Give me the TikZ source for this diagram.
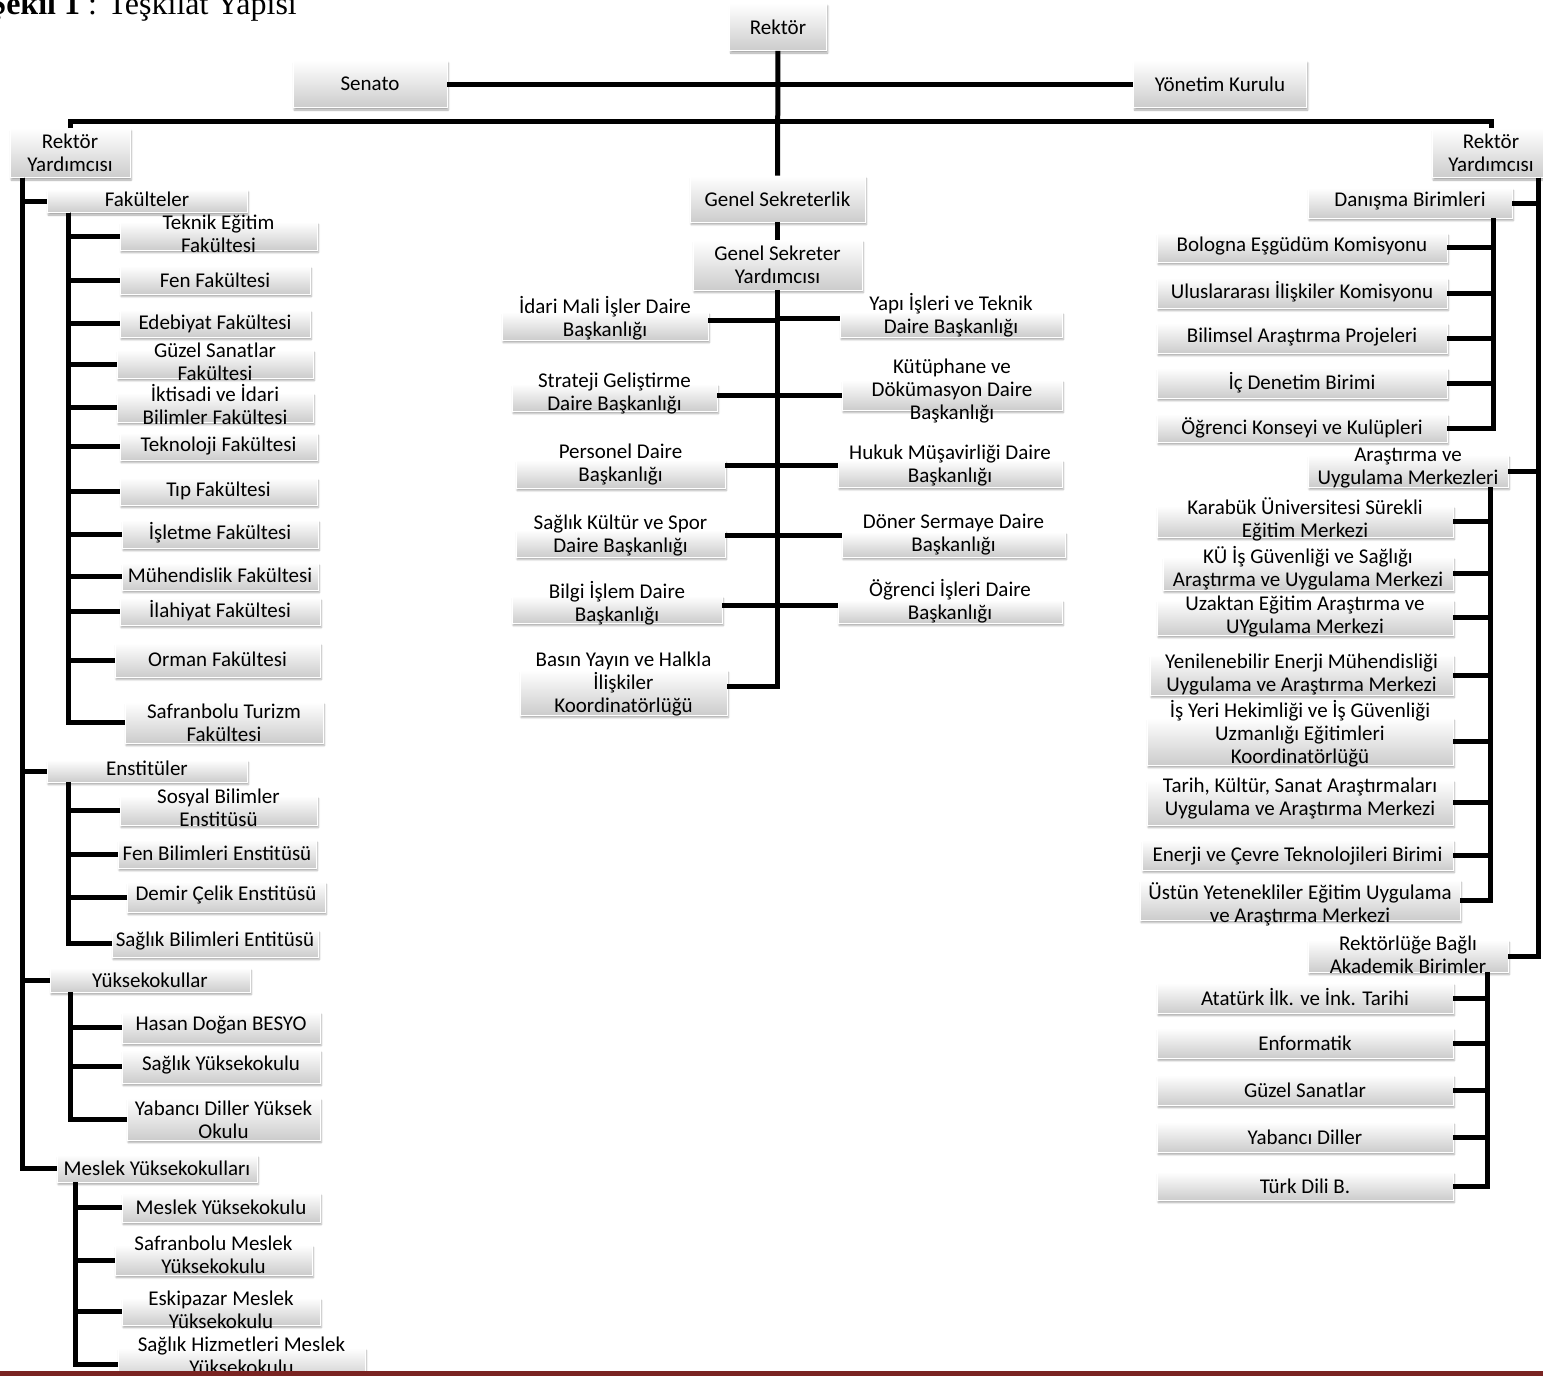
\documentclass[tikz,border=0pt]{standalone}
\usepackage{fontspec}
\setmainfont{Carlito}
\newfontfamily\baslikfont{Liberation Serif}
\usetikzlibrary{positioning}
\usetikzlibrary{shadows.blur}
\definecolor{bordo}{RGB}{122,36,34}

\begin{document}
\begin{tikzpicture}[x=1pt,y=-1pt,
  kutu/.style={rectangle,inner sep=0pt,top color=white,bottom color=black!20,draw=white,line width=0.6pt,
    blur shadow={shadow xshift=1.2pt,shadow yshift=-2.5pt,shadow blur steps=4,shadow opacity=35}},
  every label/.style={align=center,inner sep=0pt,font=\fontsize{21}{23}\selectfont},
  hat/.style={line width=5pt}]
\useasboundingbox (0,0) rectangle (1543,1376);
\clip (0,0) rectangle (1543,1376);
\node[anchor=base east,inner sep=0pt,font=\baslikfont\fontsize{32}{36}\selectfont] (baslik) at (297,14) {\textbf{Şekil 1} : Teşkilat Yapisi};
% ust
\node[kutu,minimum width=97,minimum height=47,label={center:{Rektör}}] (rektor) at (778,27) {};
\node[kutu,minimum width=154,minimum height=47,label={center:{Senato}}] (senato) at (370,84) {};
\node[kutu,minimum width=173,minimum height=47,label={center:{Yönetim Kurulu}}] (yk) at (1220,84) {};
\node[kutu,minimum width=120,minimum height=49,label={center:{Rektör\\Yardımcısı}}] (ryl) at (70,153) {};
\node[kutu,minimum width=118,minimum height=49,label={center:{Rektör\\Yardımcısı}}] (ryr) at (1491,153) {};
% sol: fakulteler
\node[kutu,minimum width=200,minimum height=23,label={[yshift=2pt]center:{Fakülteler}}] (fak) at (147,201) {};
\node[kutu,minimum width=197,minimum height=28,label={[yshift=2pt]center:{Teknik Eğitim\\Fakültesi}}] (tef) at (218.5,236) {};
\node[kutu,minimum width=190,minimum height=28,label={center:{Fen Fakültesi}}] (fen) at (215,280) {};
\node[kutu,minimum width=190,minimum height=27,label={center:{Edebiyat Fakültesi}}] (ede) at (215,323.5) {};
\node[kutu,minimum width=196,minimum height=28,label={[yshift=2pt]center:{Güzel Sanatlar\\Fakültesi}}] (gsf) at (215,364) {};
\node[kutu,minimum width=196,minimum height=29,label={[yshift=3pt]center:{İktisadi ve İdari\\Bilimler Fakültesi}}] (iib) at (215,407.5) {};
\node[kutu,minimum width=197,minimum height=27,label={center:{Teknoloji Fakültesi}}] (tek) at (218.5,446.5) {};
\node[kutu,minimum width=197,minimum height=27,label={[yshift=1pt]center:{Tıp Fakültesi}}] (tip) at (218.5,491.5) {};
\node[kutu,minimum width=196,minimum height=28,label={[yshift=1pt]center:{İşletme Fakültesi}}] (isl) at (220,534) {};
\node[kutu,minimum width=196,minimum height=27,label={[yshift=1pt]center:{Mühendislik Fakültesi}}] (muh) at (220,576.5) {};
\node[kutu,minimum width=200,minimum height=27,label={[yshift=1pt]center:{İlahiyat Fakültesi}}] (ila) at (220,611.5) {};
\node[kutu,minimum width=205,minimum height=34,label={[yshift=1pt]center:{Orman Fakültesi}}] (orm) at (217.5,660) {};
\node[kutu,minimum width=198,minimum height=41,label={center:{Safranbolu Turizm\\Fakültesi}}] (stf) at (224,722.5) {};
% sol: enstituler
\node[kutu,minimum width=200,minimum height=22,label={[yshift=3pt]center:{Enstitüler}}] (ens) at (147,771) {};
\node[kutu,minimum width=197,minimum height=29,label={[yshift=3pt]center:{Sosyal Bilimler\\Enstitüsü}}] (sbe) at (218.5,810.5) {};
\node[kutu,minimum width=198,minimum height=28,label={[yshift=1pt]center:{Fen Bilimleri Enstitüsü}}] (fbe) at (217,854) {};
\node[kutu,minimum width=198,minimum height=30,label={[yshift=2pt]center:{Demir Çelik Enstitüsü}}] (dce) at (226,897) {};
\node[kutu,minimum width=206,minimum height=27,label={[yshift=2pt]center:{Sağlık Bilimleri Entitüsü}}] (sae) at (215,943.5) {};
% sol: yuksekokullar
\node[kutu,minimum width=200,minimum height=24,label={center:{Yüksekokullar}}] (yo) at (150,980) {};
\node[kutu,minimum width=198,minimum height=31,label={[yshift=2pt]center:{Hasan Doğan BESYO}}] (hd) at (221,1027.5) {};
\node[kutu,minimum width=198,minimum height=33,label={[yshift=1pt]center:{Sağlık Yüksekokulu}}] (syo) at (221,1066.5) {};
\node[kutu,minimum width=193,minimum height=42,label={[yshift=-1pt]center:{Yabancı Diller Yüksek\\Okulu}}] (ydy) at (223.5,1119) {};
% sol: meslek yuksekokullari
\node[kutu,minimum width=200,minimum height=27,label={center:{Meslek Yüksekokulları}}] (myo) at (157,1168.5) {};
\node[kutu,minimum width=198,minimum height=29,label={center:{Meslek Yüksekokulu}}] (mey) at (221,1207.5) {};
\node[kutu,minimum width=197,minimum height=30,label={[yshift=5pt]center:{Safranbolu Meslek\\Yüksekokulu}}] (smy) at (213.5,1260) {};
\node[kutu,minimum width=198,minimum height=27,label={[yshift=2pt]center:{Eskipazar Meslek\\Yüksekokulu}}] (emy) at (221,1311.5) {};
\node[kutu,minimum width=247,minimum height=32,label={[yshift=8pt]center:{Sağlık Hizmetleri Meslek\\Yüksekokulu}}] (shm) at (241.5,1364) {};
% orta: genel sekreterlik
\node[kutu,minimum width=175,minimum height=46,label={center:{Genel Sekreterlik}}] (gs) at (777.5,199) {};
\node[kutu,minimum width=169,minimum height=50,label={center:{Genel Sekreter\\Yardımcısı}}] (gsy) at (777.5,265) {};
\node[kutu,minimum width=206,minimum height=28,label={[yshift=8pt]center:{İdari Mali İşler Daire\\Başkanlığı}}] (imi) at (605,326) {};
\node[kutu,minimum width=205,minimum height=27,label={[yshift=4pt]center:{Strateji Geliştirme\\Daire Başkanlığı}}] (sgd) at (614.5,397.5) {};
\node[kutu,minimum width=209,minimum height=28,label={[yshift=9pt]center:{Personel Daire\\Başkanlığı}}] (pdb) at (620.5,474) {};
\node[kutu,minimum width=209,minimum height=27,label={[yshift=8pt]center:{Sağlık Kültür ve Spor\\Daire Başkanlığı}}] (sks) at (620.5,543.5) {};
\node[kutu,minimum width=210,minimum height=27,label={[yshift=6pt]center:{Bilgi İşlem Daire\\Başkanlığı}}] (bid) at (617,609.5) {};
\node[kutu,minimum width=207,minimum height=45,label={[yshift=8pt]center:{Basın Yayın ve Halkla\\İlişkiler\\Koordinatörlüğü}}] (byh) at (623.5,692.5) {};
\node[kutu,minimum width=222,minimum height=25,label={[yshift=9pt]center:{Yapı İşleri ve Teknik\\Daire Başkanlığı}}] (yit) at (951,324.5) {};
\node[kutu,minimum width=220,minimum height=30,label={[yshift=4pt]center:{Kütüphane ve\\Dökümasyon Daire\\Başkanlığı}}] (kut) at (952,395) {};
\node[kutu,minimum width=224,minimum height=27,label={[yshift=8pt]center:{Hukuk Müşavirliği Daire\\Başkanlığı}}] (hmd) at (950,473.5) {};
\node[kutu,minimum width=223,minimum height=25,label={[yshift=10pt]center:{Döner Sermaye Daire\\Başkanlığı}}] (dsd) at (953.5,544.5) {};
\node[kutu,minimum width=224,minimum height=23,label={[yshift=10pt]center:{Öğrenci İşleri Daire\\Başkanlığı}}] (oid) at (950,611.5) {};
% sag: danisma birimleri
\node[kutu,minimum width=204,minimum height=30,label={[yshift=2pt]center:{Danışma Birimleri}}] (dan) at (1410,203) {};
\node[kutu,minimum width=290,minimum height=29,label={[yshift=1pt]center:{Bologna Eşgüdüm Komisyonu}}] (bol) at (1302,247.5) {};
\node[kutu,minimum width=290,minimum height=30,label={[yshift=1pt]center:{Uluslararası İlişkiler Komisyonu}}] (ulu) at (1302,293) {};
\node[kutu,minimum width=290,minimum height=30,label={[yshift=1pt]center:{Bilimsel Araştırma Projeleri}}] (bap) at (1302,338) {};
\node[kutu,minimum width=290,minimum height=30,label={center:{İç Denetim Birimi}}] (icd) at (1302,383) {};
\node[kutu,minimum width=290,minimum height=28,label={center:{Öğrenci Konseyi ve Kulüpleri}}] (okk) at (1302,428) {};
% sag: arastirma merkezleri
\node[kutu,minimum width=200,minimum height=32,label={[yshift=3pt]center:{Araştırma ve\\Uygulama Merkezleri}}] (aum) at (1408,471) {};
\node[kutu,minimum width=296,minimum height=31,label={[yshift=2pt]center:{Karabük Üniversitesi Sürekli\\Eğitim Merkezi}}] (kus) at (1305,521.5) {};
\node[kutu,minimum width=290,minimum height=33,label={[yshift=5pt]center:{KÜ İş Güvenliği ve Sağlığı\\Araştırma ve Uygulama Merkezi}}] (kui) at (1308,573.5) {};
\node[kutu,minimum width=296,minimum height=35,label={[yshift=1pt]center:{Uzaktan Eğitim Araştırma ve\\UYgulama Merkezi}}] (uze) at (1305,617.5) {};
\node[kutu,minimum width=303,minimum height=40,label={center:{Yenilenebilir Enerji Mühendisliği\\Uygulama ve Araştırma Merkezi}}] (yen) at (1301.5,675) {};
\node[kutu,minimum width=306,minimum height=47,label={[yshift=8pt]center:{İş Yeri Hekimliği ve İş Güvenliği\\Uzmanlığı Eğitimleri\\Koordinatörlüğü}}] (iyh) at (1300,741.5) {};
\node[kutu,minimum width=306,minimum height=45,label={[yshift=4pt]center:{Tarih, Kültür, Sanat Araştırmaları\\Uygulama ve Araştırma Merkezi}}] (tks) at (1300,802.5) {};
\node[kutu,minimum width=311,minimum height=30,label={[yshift=-1pt]center:{Enerji ve Çevre Teknolojileri Birimi}}] (ect) at (1297.5,855) {};
\node[kutu,minimum width=320,minimum height=40,label={[yshift=-4pt]center:{Üstün Yetenekliler Eğitim Uygulama\\ve Araştırma Merkezi}}] (uye) at (1300,900) {};
% sag: akademik birimler
\node[kutu,minimum width=200,minimum height=32,label={[yshift=1pt]center:{Rektörlüğe Bağlı\\Akademik Birimler}}] (rbab) at (1408,956) {};
\node[kutu,minimum width=296,minimum height=30,label={[yshift=1pt]center:{Atatürk İlk. ve İnk. Tarihi}}] (ata) at (1305,998) {};
\node[kutu,minimum width=296,minimum height=30,label={center:{Enformatik}}] (enf) at (1305,1043) {};
\node[kutu,minimum width=296,minimum height=30,label={center:{Güzel Sanatlar}}] (gus) at (1305,1090) {};
\node[kutu,minimum width=296,minimum height=30,label={center:{Yabancı Diller}}] (yab) at (1305,1137) {};
\node[kutu,minimum width=296,minimum height=28,label={center:{Türk Dili B.}}] (tdb) at (1305,1186) {};
% baglantilar
\draw[hat] (senato) -- (yk);
\draw[hat] (rektor) -- (gs);
\draw[hat] (gs) -- (gsy);
\draw[hat] (ryl.north) -- ++(0,-7) -| (ryr.north);
\coordinate (sol) at (22,177.5);
\coordinate (fakk) at (68,212.5);
\coordinate (ensk) at (68,782);
\coordinate (yok) at (70,992);
\coordinate (myok) at (75,1182);
\foreach \n in {fak,ens,yo,myo} \draw[hat] (sol) |- (\n.west);
\foreach \n in {tef,fen,ede,gsf,iib,tek,tip,isl,muh,ila,orm,stf} \draw[hat] (fakk) |- (\n.west);
\foreach \n in {sbe,fbe,dce,sae} \draw[hat] (ensk) |- (\n.west);
\foreach \n in {hd,syo,ydy} \draw[hat] (yok) |- (\n.west);
\foreach \n in {mey,smy,emy,shm} \draw[hat] (myok) |- (\n.west);
\foreach \n/\d in {imi/6,sgd/2.5,pdb/9,sks/8.5,bid/4.5,byh/6.5} \draw[hat] (gsy.south) |- ([yshift=\d pt]\n.east);
\foreach \n/\d in {yit/6.5,kut/0,hmd/8.5,dsd/9.5,oid/6.5} \draw[hat] (gsy.south) |- ([yshift=\d pt]\n.west);
\coordinate (sag) at (1538,177.5);
\coordinate (dank) at (1493,218);
\coordinate (aumk) at (1490,487);
\coordinate (rbabk) at (1487,972);
\foreach \n in {dan,aum,rbab} \draw[hat] (sag) |- (\n.east);
\foreach \n in {bol,ulu,bap,icd,okk} \draw[hat] (dank) |- (\n.east);
\foreach \n in {kus,kui,uze,yen,iyh,tks,ect,uye} \draw[hat] (aumk) |- (\n.east);
\foreach \n in {ata,enf,gus,yab,tdb} \draw[hat] (rbabk) |- (\n.east);
\fill[bordo] (0,1371) rectangle (1543,1376);
\end{tikzpicture}
\end{document}
